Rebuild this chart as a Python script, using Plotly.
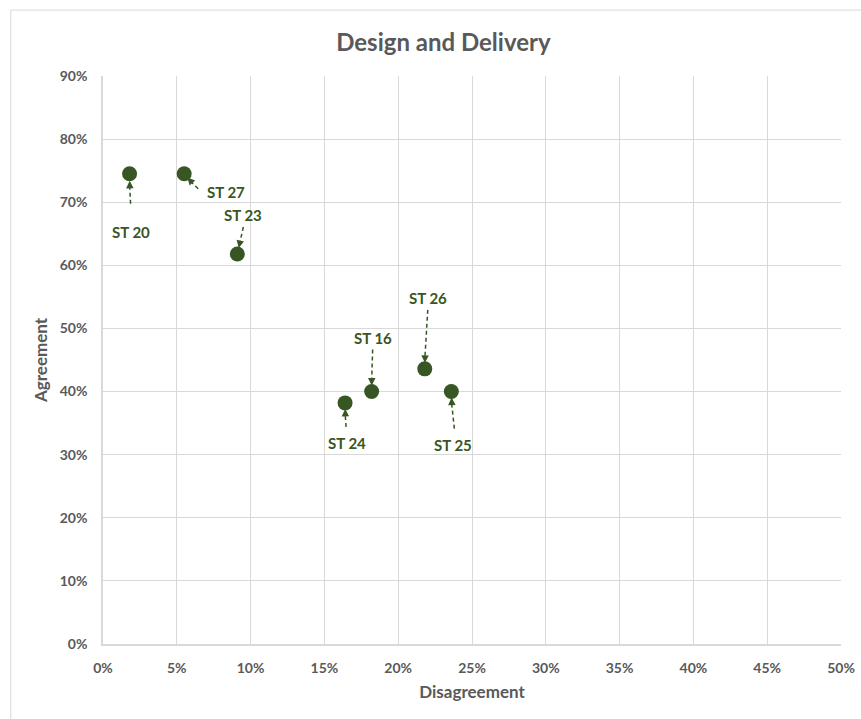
import plotly.graph_objects as go

# Survey statements: share disagreeing (x) vs agreeing (y)
labels = ["ST 20", "ST 27", "ST 23", "ST 24", "ST 16", "ST 26", "ST 25"]
disagreement = [0.018, 0.055, 0.091, 0.164, 0.182, 0.218, 0.236]
agreement = [0.745, 0.745, 0.618, 0.382, 0.400, 0.436, 0.400]

# label offsets (px) from each point, and leader line start / end offsets (px)
label_dx = [1, 42, 6, 2, 1, 3, 2]
label_dy = [58, 18, -39, 40, -54, -71, 53]
lead_from = [(1, 30), (14, 15), (6, -27), (1, 24), (1, -42), (3, -59), (3, 37)]
lead_to = [(0, 10), (5, 6), (2, -9), (0, 9), (0, -9), (0, -9), (0, 9)]

GREEN = "#375623"
GRAY_TXT = "#595959"
GRID = "#d9d9d9"
FONT = "Lato"

fig = go.Figure()
fig.add_trace(go.Scatter(
    x=disagreement, y=agreement, mode="markers",
    marker=dict(size=15, color=GREEN),
    hovertext=labels, showlegend=False,
))

shapes = [dict(type="rect", xref="paper", yref="paper",
               x0=-0.125, x1=1.2, y0=-0.3, y1=1.116,
               line=dict(color=GRID, width=1), layer="below")]
annotations = []
for i, lab in enumerate(labels):
    x, y = disagreement[i], agreement[i]
    annotations.append(dict(
        x=x, y=y, xref="x", yref="y", text=f"<b>{lab}</b>",
        showarrow=False, xshift=label_dx[i], yshift=-label_dy[i],
        font=dict(family=FONT, size=15, color=GREEN),
    ))
    (fx, fy), (tx, ty) = lead_from[i], lead_to[i]
    shapes.append(dict(
        type="line", xref="x", yref="y", xsizemode="pixel", ysizemode="pixel",
        xanchor=x, yanchor=y, x0=fx, y0=-fy, x1=tx, y1=-ty,
        line=dict(color=GREEN, width=1.5, dash="4px,3px"),
    ))
    # small arrowhead at the end of the leader
    dx, dy = fx - tx, fy - ty
    n = max((dx * dx + dy * dy) ** 0.5, 1e-9)
    annotations.append(dict(
        x=x, y=y, xref="x", yref="y", text="", showarrow=True,
        ax=tx + 5 * dx / n, ay=ty + 5 * dy / n,
        arrowhead=2, arrowsize=1.0, arrowwidth=1.5, arrowcolor=GREEN,
        standoff=(tx * tx + ty * ty) ** 0.5 - 3,
    ))

axis_common = dict(
    showgrid=True, gridcolor=GRID, gridwidth=1,
    showline=True, linecolor=GRID, linewidth=1.5,
    zeroline=False, ticks="", tickformat=".0%", automargin=False,
    tickfont=dict(family=FONT, size=14, color=GRAY_TXT, weight="bold"),
)

fig.update_layout(
    width=861, height=719,
    margin=dict(l=103, r=20, t=76, b=75),
    paper_bgcolor="white", plot_bgcolor="white",
    title=dict(text="<b>Design and Delivery</b>", x=0.515, xanchor="center",
               y=0.941, yanchor="middle",
               font=dict(family=FONT, size=24, color=GRAY_TXT)),
    xaxis=dict(range=[0, 0.5], dtick=0.05, ticklabelstandoff=10,
               title=dict(text="<b>Disagreement</b>", standoff=12,
                          font=dict(family=FONT, size=17, color=GRAY_TXT)),
               **axis_common),
    yaxis=dict(range=[0, 0.9], dtick=0.1, ticklabelstandoff=11,
               title=dict(text="<b>Agreement</b>", standoff=8,
                          font=dict(family=FONT, size=17, color=GRAY_TXT)),
               **axis_common),
    shapes=shapes, annotations=annotations,
)

fig.write_html("out.html")
